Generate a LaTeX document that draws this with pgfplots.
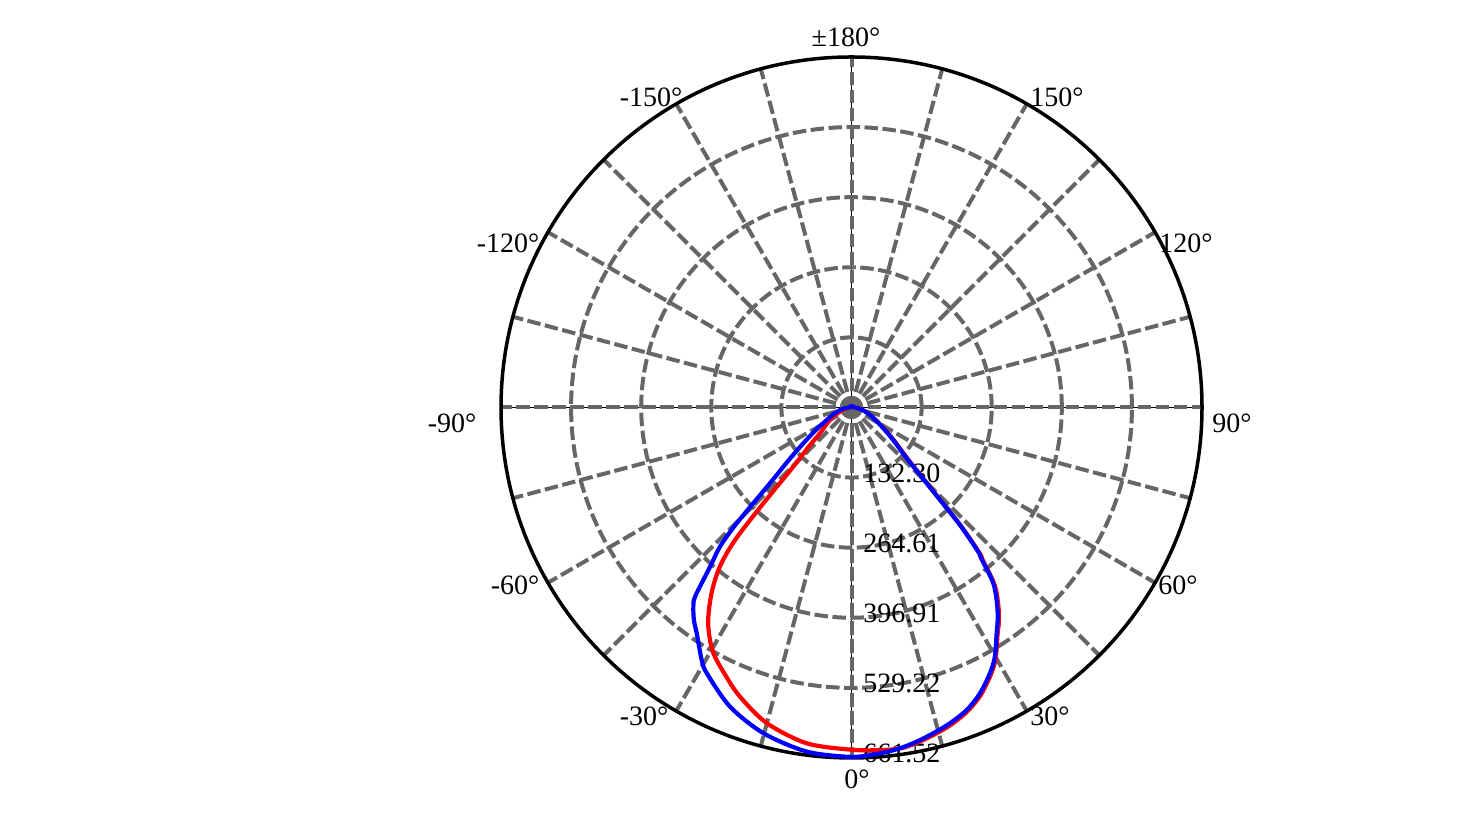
\documentclass[border=0pt]{standalone}
\usepackage{fontspec}
\setmainfont{Liberation Serif}
\usepackage{pgfplots}
\pgfplotsset{compat=1.18}
\usepackage{pgfplotstable}
\definecolor{gridgray}{RGB}{102,102,102}

\pgfplotstableread{
t r
-180 3
-150 3
-120 3
-100 3.5
-90 4
-80 9
-72 20
-63.2 38.5
-57 55
-50.7 77
-47.5 110
-44.5 157
-42.6 246
-41.3 333
-39.6 390
-37 439
-33.6 489
-29.6 530
-25 560
-21.1 585
-15 617
-7.6 639.5
0 646
4.7 649
8.1 650
11 645
14.1 637
17.3 628
20.85 614
24.2 595
27.5 569
29.9 546
32.7 510
34.5 491
36.5 466
38.9 430
40.7 380
41.3 367
42.7 306
44.2 226
47.4 146
52 103
56.8 74
61 57
67.9 39
75 25
82 14
90 6
100 4
120 3
150 3
180 3
}\redtable

\pgfplotstableread{
t r
-180 3
-150 3
-120 3
-100 3.5
-90 4
-84 12
-77.7 22
-70 35
-63.3 52
-58 78
-53.4 113
-50 155
-47.1 210
-44.75 308
-43.4 361
-41.6 402
-39.6 463
-38.45 480
-36.5 500
-34.4 517
-30.7 554
-28.6 571
-22.1 609.5
-15.1 637
-7.4 655
0 659.5
4.7 655
8.1 649.7
11.0 642.7
14.1 634
17.3 624.4
20.85 611
24.2 591.5
27.5 565.7
29.9 542.8
32.7 507
34.5 487
36.5 462
38.9 426
40.7 375
41.3 362
42.7 302
44.2 222
47.4 142
52 100
56.8 72
61 55
67.9 38
75 25
82 14
90 6
100 4
120 3
150 3
180 3
}\bluetable

\begin{document}
\begin{tikzpicture}
\begin{axis}[
  scale only axis, width=733pt, height=416.5pt,
  xmin=-1607.1, xmax=1159.8, ymin=-803.1, ymax=769.1,
  axis lines=none, ticks=none, clip=false,
]
% thin black axis lines
\draw[black, line width=0.7pt] (axis cs:-661.52,0) -- (axis cs:661.52,0);
\draw[black, line width=0.7pt] (axis cs:0,-661.52) -- (axis cs:0,661.52);
% rings
\pgfplotsinvokeforeach{132.30,264.61,396.91,529.22}{
  \draw[gridgray, line width=2pt, dash pattern=on 6.75pt off 2.25pt] (axis cs:0,0) circle[radius=#1];
}
% spokes
\pgfplotsinvokeforeach{0,15,...,345}{
  \draw[gridgray, line width=2pt, dash pattern=on 6.75pt off 2.25pt, dash phase=1pt] (axis cs:0,0) -- (axis cs:{661.52*cos(#1)},{661.52*sin(#1)});
}
% outer circle
\draw[black, line width=1.75pt] (axis cs:0,0) circle[radius=661.52];
% angle labels
\begin{scope}[every node/.style={font=\fontsize{14}{16}\selectfont, inner sep=0pt}]
\node at (axis cs:10.4,-701.2) {0°};
\node at (axis cs:374.6,-582.3) {30°};
\node at (axis cs:616.2,-335.0) {60°};
\node at (axis cs:718.2,-29.3) {90°};
\node at (axis cs:631.3,310.5) {120°};
\node at (axis cs:387.9,586.0) {150°};
\node at (axis cs:-10.4,699.3) {±180°};
\node at (axis cs:-378.4,586.0) {-150°};
\node at (axis cs:-648.3,310.5) {-120°};
\node at (axis cs:-754.0,-29.3) {-90°};
\node at (axis cs:-635.1,-335.0) {-60°};
\node at (axis cs:-391.6,-582.3) {-30°};
\node[anchor=west] at (axis cs:21.7,-123.8) {132.30};
\node[anchor=west] at (axis cs:21.7,-256.1) {264.61};
\node[anchor=west] at (axis cs:21.7,-388.4) {396.91};
\node[anchor=west] at (axis cs:21.7,-520.7) {529.22};
\node[anchor=west] at (axis cs:21.7,-653.0) {661.52};
\end{scope}
% curves
\addplot[red, line width=2.1pt, smooth, tension=0.5, data cs=polar] table[x expr=\thisrow{t}-90, y=r] {\redtable};
\addplot[blue, line width=2.1pt, smooth, tension=0.5, data cs=polar] table[x expr=\thisrow{t}-90, y=r] {\bluetable};
\end{axis}
\pgfresetboundingbox
\path[use as bounding box] (current axis.south west) rectangle (current axis.north east);
\end{tikzpicture}
\end{document}
